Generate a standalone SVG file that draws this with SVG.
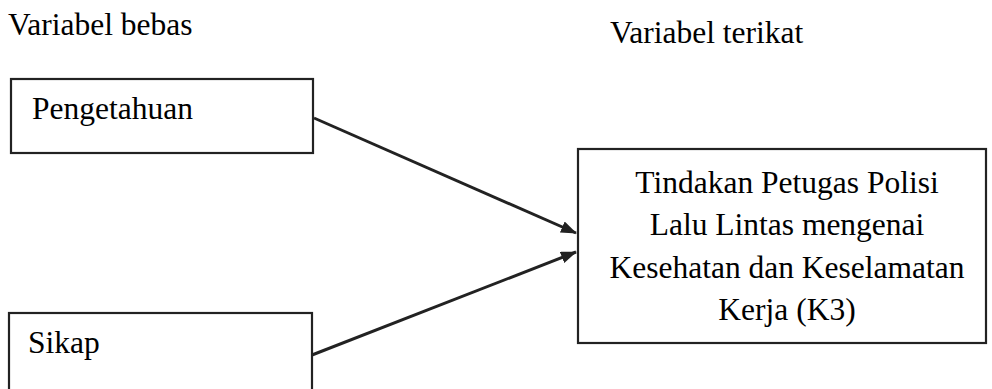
<svg xmlns="http://www.w3.org/2000/svg" width="992" height="389" viewBox="0 0 992 389">
<defs>
<marker id="ah" markerWidth="16" markerHeight="12" refX="15" refY="6" orient="auto" markerUnits="userSpaceOnUse">
<path d="M0,0 L16,6 L0,12 z" fill="#222"/>
</marker>
</defs>
<rect width="992" height="389" fill="#fff"/>
<text x="8" y="35" style="font-family:'Liberation Serif',serif;font-size:31.5px">Variabel bebas</text>
<text x="610" y="43" style="font-family:'Liberation Serif',serif;font-size:31.5px">Variabel terikat</text>
<g id="pengetahuan">
<rect x="11" y="79" width="302" height="74" fill="#fff" stroke="#222" stroke-width="2.2"/>
<text x="32" y="119" style="font-family:'Liberation Serif',serif;font-size:31.5px">Pengetahuan</text>
</g>
<g id="sikap">
<rect x="9" y="313" width="303" height="90" fill="#fff" stroke="#222" stroke-width="2.2"/>
<text x="28" y="353" style="font-family:'Liberation Serif',serif;font-size:31.5px">Sikap</text>
</g>
<g id="tindakan">
<rect x="578" y="149" width="408" height="194" fill="#fff" stroke="#222" stroke-width="2.2"/>
<text x="787" y="193" text-anchor="middle" style="font-family:'Liberation Serif',serif;font-size:31.5px">Tindakan Petugas Polisi</text>
<text x="787" y="235" text-anchor="middle" style="font-family:'Liberation Serif',serif;font-size:31.5px">Lalu Lintas mengenai</text>
<text x="787" y="278" text-anchor="middle" style="font-family:'Liberation Serif',serif;font-size:31.5px">Kesehatan dan Keselamatan</text>
<text x="787" y="320" text-anchor="middle" style="font-family:'Liberation Serif',serif;font-size:31.5px">Kerja (K3)</text>
</g>
<g id="connectors" stroke="#222" stroke-width="3" fill="none">
<line x1="314" y1="118" x2="576" y2="233" marker-end="url(#ah)"/>
<line x1="312" y1="355" x2="576" y2="252" marker-end="url(#ah)"/>
</g>
</svg>
